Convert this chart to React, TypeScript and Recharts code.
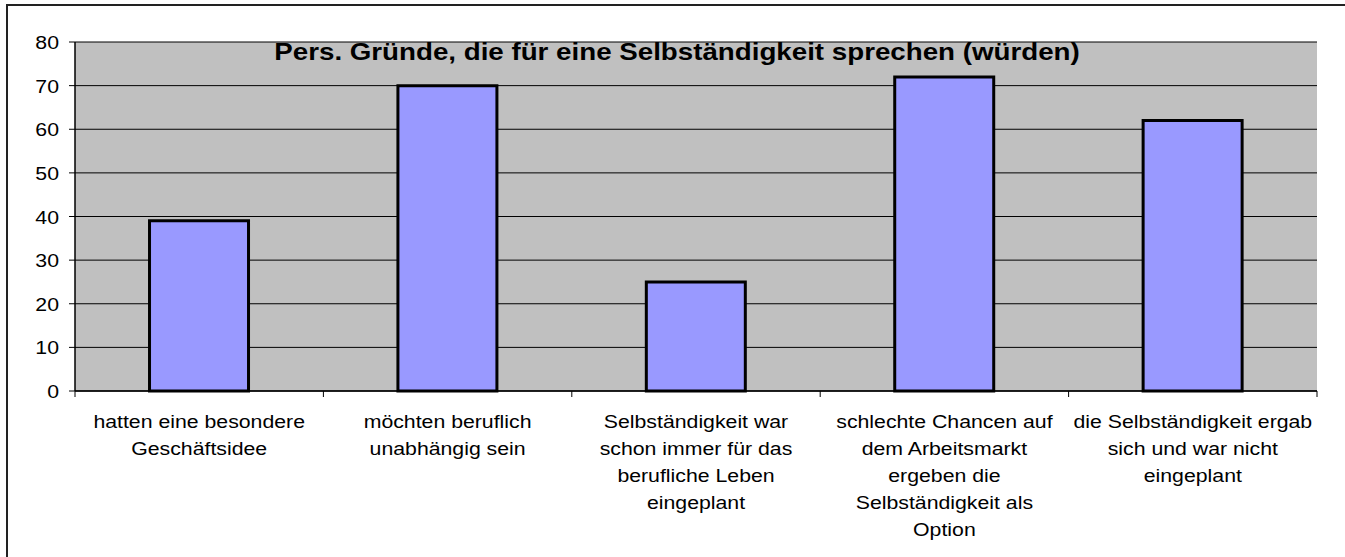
import { Bar, BarChart, CartesianGrid, XAxis, YAxis } from 'recharts';

const categories = [
    "hatten eine besondere\nGeschäftsidee",
    "möchten beruflich\nunabhängig sein",
    "Selbständigkeit war\nschon immer für das\nberufliche Leben\neingeplant",
    "schlechte Chancen auf\ndem Arbeitsmarkt\nergeben die\nSelbständigkeit als\nOption",
    "die Selbständigkeit ergab\nsich und war nicht\neingeplant",
];
const values = [39, 70, 25, 72, 62];
const yTicks = [0, 10, 20, 30, 40, 50, 60, 70, 80];
const title = "Pers. Gründe, die für eine Selbständigkeit sprechen (würden)";

const data = categories.map((name, i) => ({ name, value: values[i] }));

const W = 1345;
const H = 557;
const LEFT = 75;
const RIGHT = 28;
const TOP = 42;
const BOTTOM = 166;
const AXIS_Y = H - BOTTOM;
const HALF_BAND = (W - LEFT - RIGHT) / categories.length / 2;
const FONT = "'Liberation Sans', Arial, sans-serif";
const STRETCH = 1.15;
const LABEL_SIZE = 18.5;

function CategoryTick(props: any) {
    const { x, payload, index } = props;
    const lines = String(payload.value).split('\n');
    return (
        <g>
            <line x1={x - HALF_BAND} x2={x - HALF_BAND} y1={AXIS_Y} y2={AXIS_Y + 6} stroke="#000" />
            {index === categories.length - 1 && (
                <line x1={x + HALF_BAND} x2={x + HALF_BAND} y1={AXIS_Y} y2={AXIS_Y + 6} stroke="#000" />
            )}
            <text
                transform={`translate(${x},${AXIS_Y + 37}) scale(${STRETCH},1)`}
                textAnchor="middle"
                fontSize={LABEL_SIZE}
                fontFamily={FONT}
                fill="#000"
            >
                {lines.map((l, i) => (
                    <tspan key={i} x={0} dy={i === 0 ? 0 : 27}>{l}</tspan>
                ))}
            </text>
        </g>
    );
}

function ValueTick(props: any) {
    const { x, y, payload } = props;
    return (
        <text
            transform={`translate(${x},${y + 7}) scale(${STRETCH},1)`}
            textAnchor="end"
            fontSize={LABEL_SIZE}
            fontFamily={FONT}
            fill="#000"
        >
            {payload.value}
        </text>
    );
}

export default function App() {
    return (
        <div style={{ position: 'fixed', left: 0, top: 0, width: W, height: H, overflow: 'hidden', background: '#fff' }}>
            <svg width={W} height={H} style={{ position: 'absolute', left: 0, top: 0 }}>
                <path d={`M7 ${H}V5H${W}`} fill="none" stroke="#222" strokeWidth={2} />
            </svg>
            <div style={{ position: 'absolute', left: 0, top: 0 }}>
                <BarChart
                    width={W}
                    height={H}
                    data={data}
                    margin={{ top: TOP, right: RIGHT, bottom: 6, left: 0 }}
                    barCategoryGap="30%"
                >
                    <CartesianGrid vertical={false} stroke="#000" strokeWidth={1} fill="#C0C0C0" fillOpacity={1} />
                    <XAxis
                        dataKey="name"
                        interval={0}
                        height={160}
                        axisLine={{ stroke: '#000', strokeWidth: 1.5 }}
                        tickLine={false}
                        tick={<CategoryTick />}
                    />
                    <XAxis xAxisId="top" orientation="top" height={0} tick={false} tickLine={false}
                        axisLine={{ stroke: '#808080', strokeWidth: 2 }} />
                    <YAxis
                        width={LEFT}
                        domain={[0, 80]}
                        ticks={yTicks}
                        interval={0}
                        tickSize={6}
                        tickMargin={10}
                        axisLine={{ stroke: '#000', strokeWidth: 1.5 }}
                        tickLine={{ stroke: '#000' }}
                        tick={<ValueTick />}
                    />
                    <YAxis yAxisId="right" orientation="right" width={0} tick={false} tickLine={false}
                        axisLine={{ stroke: '#808080', strokeWidth: 2.5 }} />
                    <Bar dataKey="value" fill="#9999FF" stroke="#000" strokeWidth={3} isAnimationActive={false} />
                    <text
                        transform={`translate(677,59.5) scale(1.18,1)`}
                        textAnchor="middle"
                        fontSize={23.5}
                        fontWeight="bold"
                        fontFamily={FONT}
                        fill="#000"
                    >
                        {title}
                    </text>
                </BarChart>
            </div>
        </div>
    );
}
